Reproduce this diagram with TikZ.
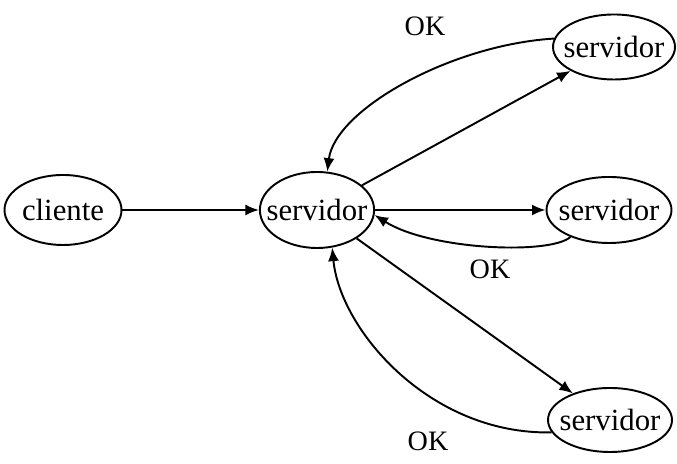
\documentclass[tikz,border=0pt]{standalone}
\usepackage{fontspec}
\setmainfont{Liberation Serif}
\usetikzlibrary{arrows.meta, shapes.geometric}

\begin{document}
\begin{tikzpicture}[
        maq/.style={draw, ellipse, line width=1.1pt, inner xsep=-2mm, inner ysep=0pt},
        seta/.style={line width=1.1pt, -{Latex[length=2.7mm, width=2.2mm]}},
        rot/.style={font=\fontsize{16}{18}\selectfont}
    ]
        \useasboundingbox (0, 0) rectangle (13.54, 9.28);
        \begin{scope}[every node/.style={font=\fontsize{17.5}{20}\selectfont}]
            \node[maq, minimum width=2.34cm, minimum height=1.40cm] (cliente) at (1.26, 5.08) {cliente};
            \node[maq, minimum width=2.26cm, minimum height=1.52cm] (hub) at (6.34, 5.08) {servidor};
            \node[maq, minimum width=2.44cm, minimum height=1.30cm] (srvA) at (12.28, 8.34) {servidor};
            \node[maq, minimum width=2.50cm, minimum height=1.32cm] (srvB) at (12.18, 5.08) {servidor};
            \node[maq, minimum width=2.48cm, minimum height=1.28cm] (srvC) at (12.20, 0.88) {servidor};
        \end{scope}
        % pedidos
        \draw[seta] (cliente) -- (hub);
        \draw[seta] (hub) -- (srvA);
        \draw[seta] (hub) -- (srvB);
        \draw[seta] (hub) -- (srvC);
        % respostas
        \draw[seta] (srvA.172) .. controls (9.0, 8.38) and (6.7, 7.08) .. (hub.75);
        \draw[seta] (srvB.215) .. controls (11.0, 4.18) and (8.6, 4.28) .. (hub.355);
        \draw[seta] (srvC.192) .. controls (8.6, 0.58) and (6.8, 2.68) .. (hub.292);
        \node[rot] (okA) at (8.50, 8.76) {OK};
        \node[rot] (okB) at (9.80, 3.90) {OK};
        \node[rot] (okC) at (8.56, 0.46) {OK};
    \end{tikzpicture}
\end{document}
